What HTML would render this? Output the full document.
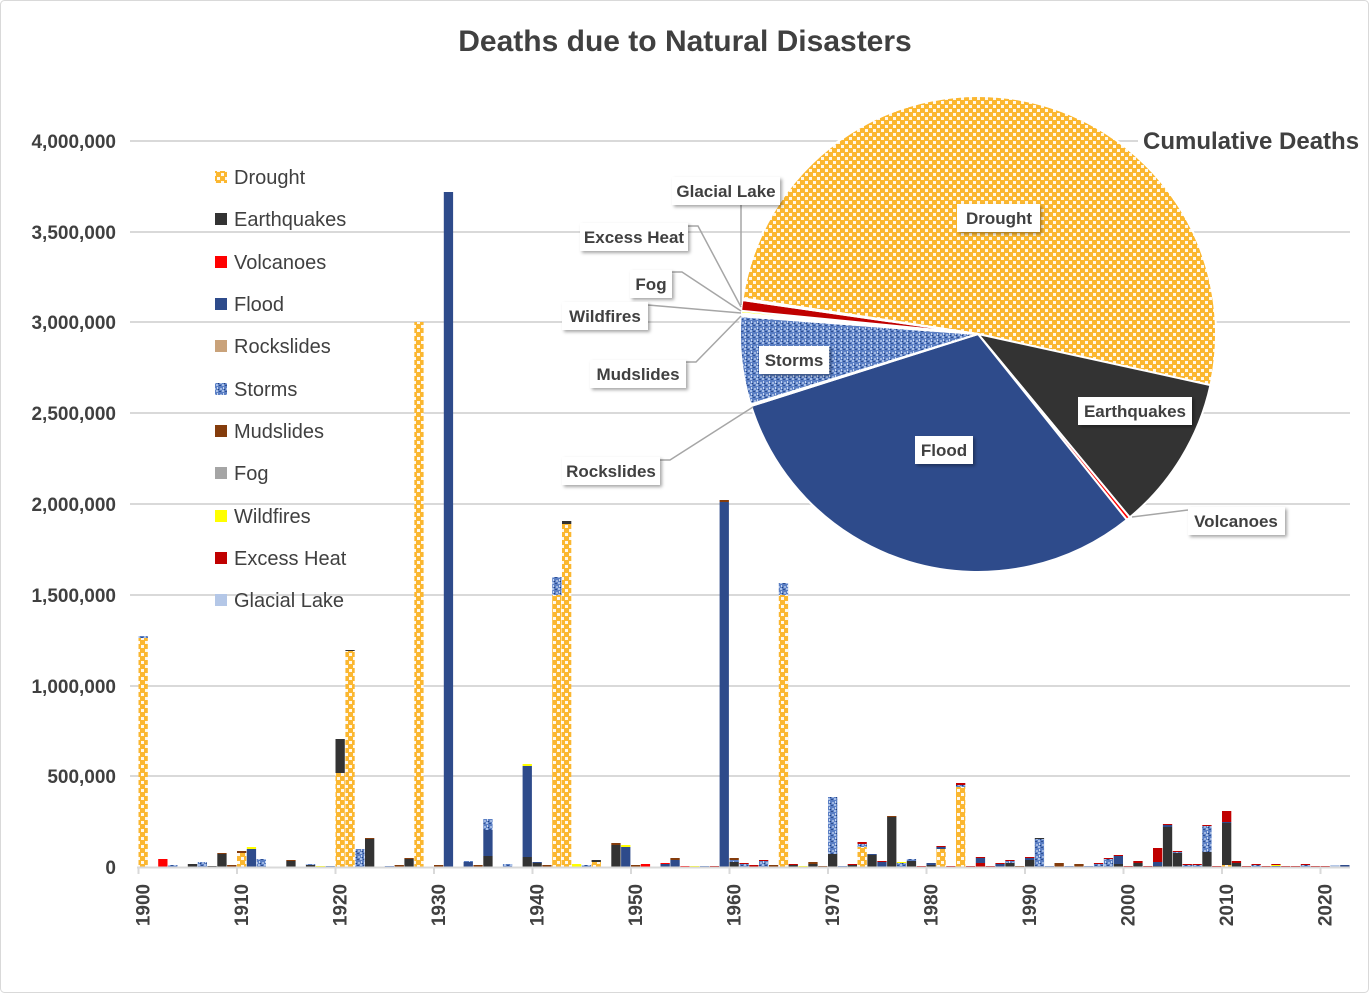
<!DOCTYPE html>
<html><head><meta charset="utf-8">
<style>
html,body{margin:0;padding:0;background:#fff;}
svg text{font-family:"Liberation Sans",sans-serif;font-weight:bold;}
</style></head>
<body>
<svg id="s" width="1370" height="994" viewBox="0 0 1370 994" xmlns="http://www.w3.org/2000/svg">
<defs>
<pattern id="dots" width="8" height="8" patternUnits="userSpaceOnUse">
<rect width="8" height="8" fill="#FBB730"/>
<rect x="1" y="1" width="3" height="3" fill="#fff" opacity="0.9"/>
<rect x="5" y="5" width="3" height="3" fill="#fff" opacity="0.9"/>
</pattern>
<pattern id="st" width="6" height="6" patternUnits="userSpaceOnUse">
<rect width="6" height="6" fill="#5B7FC4"/>
<rect x="0" y="0" width="2" height="2" fill="#A9C0E8"/>
<rect x="3" y="1" width="2" height="1" fill="#2F4F8F"/>
<rect x="1" y="3" width="1" height="2" fill="#C9D8F0"/>
<rect x="4" y="4" width="2" height="2" fill="#9FB6E0"/>
<rect x="2" y="5" width="1" height="1" fill="#24417A"/>
</pattern>
<filter id="sh" x="-10%" y="-20%" width="130%" height="160%"><feDropShadow dx="2" dy="2" stdDeviation="1.5" flood-color="#000" flood-opacity="0.35"/></filter>
</defs>
<rect x="0.5" y="0.5" width="1368" height="992" rx="4" fill="#fff" stroke="#d9d9d9"/>
<text x="685" y="51" font-size="30" fill="#404040" text-anchor="middle">Deaths due to Natural Disasters</text>
<g stroke="#d9d9d9" stroke-width="2">
<line x1="130" x2="1350" y1="141" y2="141"/><line x1="130" x2="1350" y1="232" y2="232"/>
<line x1="130" x2="1350" y1="322" y2="322"/><line x1="130" x2="1350" y1="413" y2="413"/>
<line x1="130" x2="1350" y1="504" y2="504"/><line x1="130" x2="1350" y1="595" y2="595"/>
<line x1="130" x2="1350" y1="686" y2="686"/><line x1="130" x2="1350" y1="776" y2="776"/>
</g>
<g font-size="19" fill="#404040" text-anchor="end">
<text x="116" y="148">4,000,000</text><text x="116" y="239">3,500,000</text>
<text x="116" y="329">3,000,000</text><text x="116" y="420">2,500,000</text>
<text x="116" y="511">2,000,000</text><text x="116" y="602">1,500,000</text>
<text x="116" y="693">1,000,000</text><text x="116" y="783">500,000</text>
<text x="116" y="874">0</text>
</g>
<g id="bars"></g>
<line x1="137" x2="1350" y1="867.5" y2="867.5" stroke="#d9d9d9" stroke-width="2"/>
<g id="ticks" stroke="#d9d9d9" stroke-width="2"></g>
<g font-size="19" fill="#404040" id="xl"></g>
<g font-size="20" fill="#404040" style="font-weight:normal">
<text x="234" y="184" style="font-weight:normal">Drought</text>
<text x="234" y="226" style="font-weight:normal">Earthquakes</text>
<text x="234" y="269" style="font-weight:normal">Volcanoes</text>
<text x="234" y="311" style="font-weight:normal">Flood</text>
<text x="234" y="353" style="font-weight:normal">Rockslides</text>
<text x="234" y="396" style="font-weight:normal">Storms</text>
<text x="234" y="438" style="font-weight:normal">Mudslides</text>
<text x="234" y="480" style="font-weight:normal">Fog</text>
<text x="234" y="523" style="font-weight:normal">Wildfires</text>
<text x="234" y="565" style="font-weight:normal">Excess Heat</text>
<text x="234" y="607" style="font-weight:normal">Glacial Lake</text>
</g>
<g>
<rect x="215" y="171" width="12" height="12" fill="url(#dots)"/>
<rect x="215" y="213" width="12" height="12" fill="#333"/>
<rect x="215" y="256" width="12" height="12" fill="#FF0000"/>
<rect x="215" y="298" width="12" height="12" fill="#2E4B8B"/>
<rect x="215" y="340" width="12" height="12" fill="#C9A27A"/>
<rect x="215" y="383" width="12" height="12" fill="url(#st)"/>
<rect x="215" y="425" width="12" height="12" fill="#843C0C"/>
<rect x="215" y="467" width="12" height="12" fill="#A5A5A5"/>
<rect x="215" y="510" width="12" height="12" fill="#FFFF00"/>
<rect x="215" y="552" width="12" height="12" fill="#C00000"/>
<rect x="215" y="594" width="12" height="12" fill="#B4C7E7"/>
</g>
<g id="pie"></g>
<g stroke="#a6a6a6" stroke-width="1.5" fill="none">
<polyline points="741,200 741,305"/>
<polyline points="688,226 698,226 741,307"/>
<polyline points="672,272 682,272 741,311"/>
<polyline points="648,305 741,313"/>
<polyline points="686,362 696,362 741,316"/>
<polyline points="660,460 670,460 753,407"/>
<polyline points="1132,517 1188,510"/>
</g>
<g font-size="17" fill="#404040" text-anchor="middle">
<g filter="url(#sh)" fill="#fff">
<rect x="672" y="177" width="108" height="28"/><rect x="580" y="223" width="108" height="28"/>
<rect x="630" y="270" width="42" height="28"/><rect x="562" y="302" width="86" height="28"/>
<rect x="590" y="360" width="96" height="28"/><rect x="562" y="457" width="98" height="28"/>
<rect x="957" y="204" width="83" height="28"/><rect x="1078" y="397" width="114" height="28"/>
<rect x="1188" y="507" width="97" height="28"/><rect x="915" y="436" width="58" height="28"/>
<rect x="759" y="346" width="70" height="28"/>
</g>
<text x="726" y="197">Glacial Lake</text><text x="634" y="243">Excess Heat</text>
<text x="651" y="290">Fog</text><text x="605" y="322">Wildfires</text>
<text x="638" y="380">Mudslides</text><text x="611" y="477">Rockslides</text>
<text x="999" y="224">Drought</text><text x="1135" y="417">Earthquakes</text>
<text x="1236" y="527">Volcanoes</text><text x="944" y="456">Flood</text>
<text x="794" y="366">Storms</text>
</g>
<rect x="1138" y="124" width="226" height="34" fill="#fff"/>
<text x="1143" y="149" font-size="24" fill="#404040">Cumulative Deaths</text>
</svg>
<script>
var NS="http://www.w3.org/2000/svg";
function el(p,t,a){var e=document.createElementNS(NS,t);for(var k in a)e.setAttribute(k,a[k]);p.appendChild(e);return e;}
var C={d:"url(#dots)",k:"#333333",v:"#FF0000",f:"#2E4B8B",s:"url(#st)",b:"#843C0C",y:"#FFFF00",h:"#C00000",g:"#B4C7E7",o:"#A5A5A5"};
var D=[
[1900,[["d",638],["s",636]]],[1902,[["v",859]]],[1903,[["s",865]]],[1905,[["k",864]]],[1906,[["s",862]]],[1907,[["k",866]]],
[1908,[["k",854],["b",853]]],[1909,[["b",865]]],[1910,[["d",853],["b",851]]],[1911,[["f",849],["y",847]]],[1912,[["s",859]]],
[1915,[["k",861],["b",860]]],[1917,[["k",865],["s",864]]],[1918,[["y",866]]],[1919,[["s",866]]],
[1920,[["d",773],["k",739]]],[1921,[["d",651],["k",650]]],[1922,[["s",849]]],[1923,[["k",839],["b",838]]],
[1925,[["s",866]]],[1926,[["b",865]]],[1927,[["k",859],["b",858]]],[1928,[["d",322]]],[1930,[["b",865]]],[1931,[["f",192]]],
[1933,[["f",862],["s",861]]],[1934,[["b",865]]],[1935,[["k",856],["f",830],["s",819]]],[1937,[["s",864]]],
[1939,[["k",857],["f",766],["y",764]]],[1940,[["k",863],["f",862]]],[1941,[["b",865]]],[1942,[["d",595],["s",577]]],
[1943,[["d",524],["k",521]]],[1944,[["y",864]]],[1945,[["s",865]]],[1946,[["d",862],["k",860]]],
[1948,[["k",845],["b",843]]],[1949,[["f",847],["y",845]]],[1950,[["b",865]]],[1951,[["v",864]]],[1953,[["f",864],["v",863]]],
[1954,[["f",860],["b",858]]],[1955,[["v",866]]],[1956,[["y",866]]],[1957,[["s",866]]],[1958,[["h",866]]],
[1959,[["f",502],["b",500]]],[1960,[["k",862],["s",860],["b",858]]],[1961,[["s",864],["h",863]]],
[1962,[["h",865]]],[1963,[["s",861],["h",860]]],[1964,[["b",865]]],[1965,[["d",595],["s",583]]],[1966,[["k",865],["h",864]]],
[1967,[["y",866]]],[1968,[["k",864],["b",862]]],[1969,[["b",866]]],[1970,[["k",854],["s",797]]],[1971,[["s",866]]],
[1972,[["k",865],["h",864]]],[1973,[["d",847],["s",844],["h",842]]],[1974,[["k",855],["f",854]]],[1975,[["f",862],["h",861]]],
[1976,[["k",817],["b",816]]],[1977,[["s",863],["y",862]]],[1978,[["k",861],["s",859]]],[1979,[["h",866]]],
[1980,[["k",865],["f",863]]],[1981,[["d",849],["f",847],["h",846]]],[1982,[["h",866]]],[1983,[["d",787],["s",785],["h",783]]],
[1984,[["h",866]]],[1985,[["h",863],["f",858],["h",857]]],[1986,[["h",866]]],[1987,[["f",864],["h",863]]],
[1988,[["k",863],["s",861],["h",860]]],[1989,[["b",866]]],[1990,[["k",860],["f",858],["h",857]]],[1991,[["s",839],["k",838]]],
[1992,[["s",866]]],[1993,[["b",863]]],[1994,[["s",866]]],[1995,[["b",864]]],[1996,[["s",866]]],[1997,[["s",864],["h",863]]],
[1998,[["s",859],["h",858]]],[1999,[["k",864],["f",856],["h",855]]],[2000,[["h",866]]],[2001,[["k",863],["h",861]]],[2002,[["h",866]]],
[2003,[["k",866],["f",862],["h",848]]],[2004,[["k",827],["f",825],["h",824]]],[2005,[["k",853],["s",852],["h",851]]],
[2006,[["s",865],["h",864]]],[2007,[["s",865],["h",864]]],[2008,[["k",852],["s",826],["h",825]]],[2009,[["h",866]]],
[2010,[["d",865],["k",823],["f",822],["h",811]]],[2011,[["k",863],["h",861]]],[2012,[["h",866]]],[2013,[["s",865],["h",864]]],
[2014,[["h",866]]],[2015,[["f",866],["y",865],["h",864]]],[2016,[["h",866]]],[2017,[["h",866]]],[2018,[["s",865],["h",864]]],
[2019,[["h",866]]],[2020,[["h",866]]],[2021,[["g",865]]],[2022,[["f",865]]]
];
var B=document.getElementById("bars");
D.forEach(function(r){var x=138.5+(r[0]-1900)*9.85,prev=867;r[1].forEach(function(s){if(s[1]<prev){el(B,"rect",{x:x.toFixed(1),y:s[1],width:9.3,height:prev-s[1],fill:C[s[0]]});prev=s[1];}});});
var T=document.getElementById("ticks"),XL=document.getElementById("xl");
for(var i=0;i<=12;i++){var x=138.5+i*98.5;el(T,"line",{x1:x,x2:x,y1:867,y2:874});
var t=el(XL,"text",{transform:"translate("+(x+11)+",905) rotate(-90)","text-anchor":"middle"});t.textContent=String(1900+i*10);}
var P=document.getElementById("pie"),cx=978,cy=334,R=238;
function pt(a){a=a*Math.PI/180;return (cx+R*Math.cos(a)).toFixed(2)+","+(cy+R*Math.sin(a)).toFixed(2);}
var S=[[-171.4,12.4,C.d],[12.4,50.4,"#333333"],[50.4,51.3,"#FF0000"],[51.3,162.4,"#2E4B8B"],[162.4,162.8,"#C9A27A"],
[162.8,184.3,C.s],[184.3,184.8,"#843C0C"],[184.8,185.0,"#A5A5A5"],[185.0,185.6,"#FFFF00"],[185.6,188.2,"#C00000"],[188.2,188.6,"#B4C7E7"]];
S.forEach(function(s){var lg=(s[1]-s[0])>180?1:0;el(P,"path",{d:"M"+cx+","+cy+" L"+pt(s[0])+" A"+R+","+R+" 0 "+lg+" 1 "+pt(s[1])+" Z",fill:s[2],stroke:"#fff","stroke-width":2});});
</script>
</body></html>
